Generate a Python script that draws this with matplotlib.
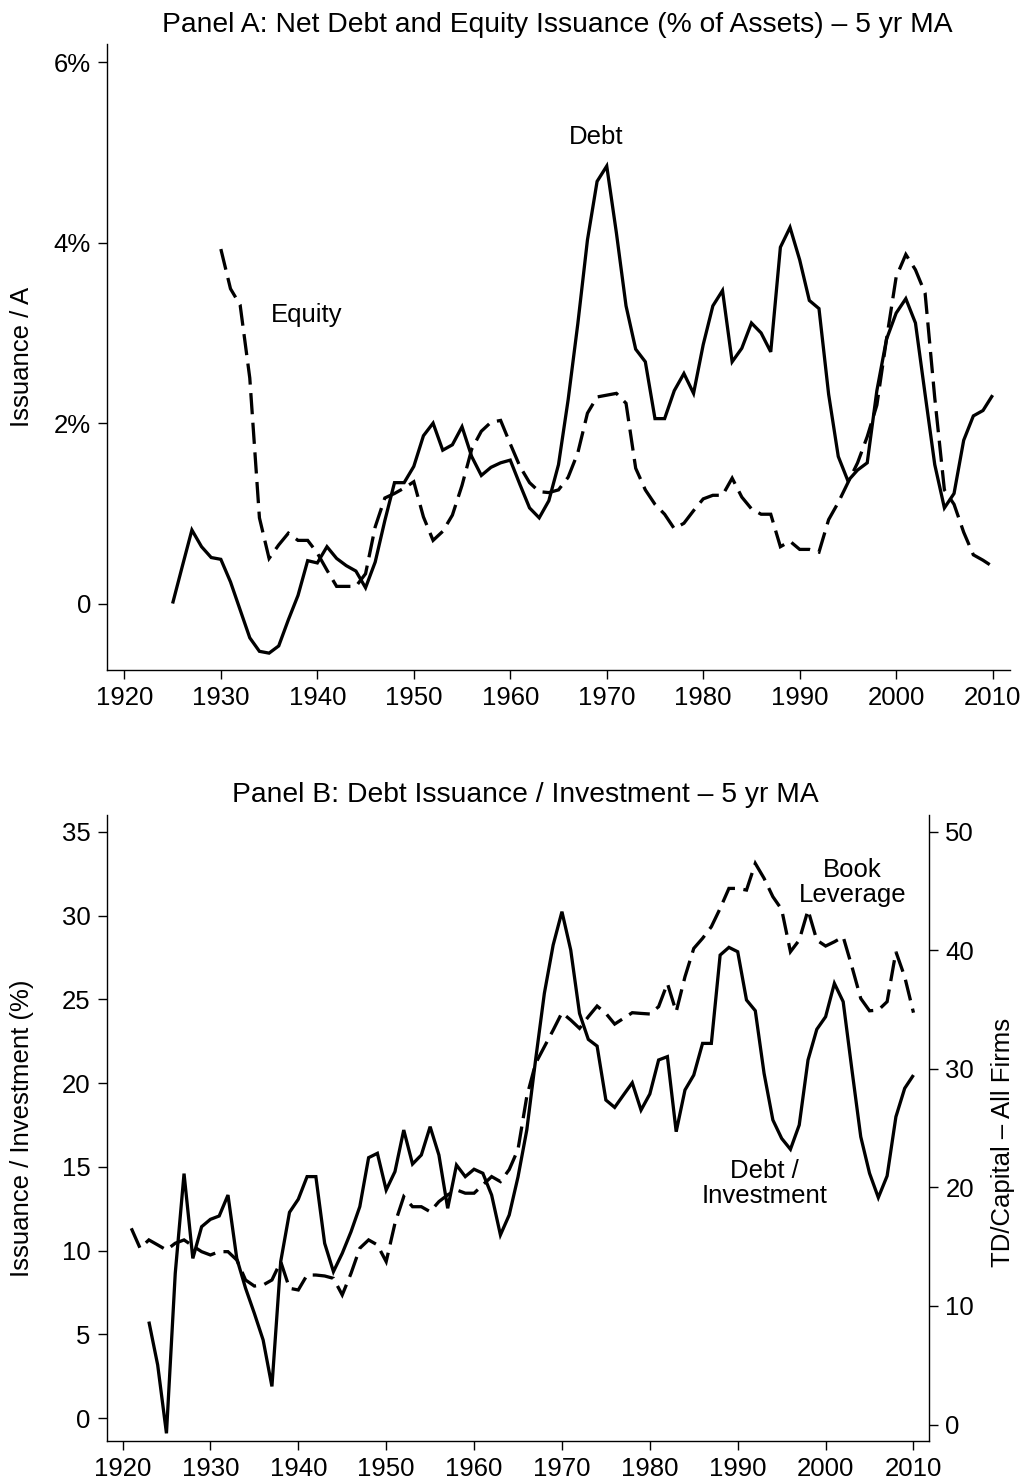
import matplotlib
matplotlib.use('Agg')
import matplotlib.pyplot as plt
import numpy as np

plt.rcParams['font.family'] = ['Liberation Sans', 'DejaVu Sans']

# ---------------- Data ----------------
debt_years = list(range(1925, 2011))
debt_issuance = [
    0.0, 0.41, 0.815, 0.63, 0.51, 0.49, 0.24, -0.07, -0.38, -0.53,
    -0.55, -0.47, -0.18, 0.09, 0.475, 0.45, 0.63, 0.50, 0.42, 0.36,
    0.175, 0.46, 0.92, 1.34, 1.34, 1.52, 1.86, 2.0, 1.70, 1.76,
    1.96, 1.63, 1.42, 1.51, 1.56, 1.59, 1.32, 1.06, 0.95, 1.14,
    1.54, 2.26, 3.1, 4.03, 4.68, 4.85, 4.11, 3.30, 2.82, 2.68,
    2.05, 2.05, 2.36, 2.55, 2.33, 2.87, 3.30, 3.47, 2.68, 2.83,
    3.11, 3.00, 2.79, 3.95, 4.17, 3.81, 3.36, 3.27, 2.32, 1.63,
    1.36, 1.48, 1.56, 2.36, 2.93, 3.22, 3.38, 3.11, 2.32, 1.54,
    1.06, 1.22, 1.81, 2.08, 2.14, 2.31,
]

equity_years = list(range(1930, 2011))
equity_issuance = [
    3.93, 3.49, 3.31, 2.5, 0.95, 0.50, 0.65, 0.78, 0.70, 0.70,
    0.56, 0.37, 0.19, 0.19, 0.19, 0.33, 0.85, 1.17, 1.22, 1.28,
    1.35, 0.96, 0.70, 0.80, 0.98, 1.31, 1.71, 1.91, 2.01, 2.03,
    1.77, 1.52, 1.34, 1.24, 1.23, 1.26, 1.40, 1.67, 2.11, 2.29,
    2.31, 2.33, 2.22, 1.50, 1.26, 1.10, 0.99, 0.83, 0.89, 1.03,
    1.16, 1.20, 1.20, 1.39, 1.18, 1.05, 0.99, 0.99, 0.63, 0.69,
    0.60, 0.60, 0.57, 0.93, 1.12, 1.34, 1.56, 1.85, 2.20, 2.93,
    3.62, 3.87, 3.70, 3.44, 2.28, 1.26, 1.10, 0.79, 0.54, 0.48,
    0.41,
]

di_years = list(range(1923, 2011))
debt_investment = [
    5.77, 3.18, -0.9, 8.65, 14.6, 9.54, 11.43, 11.87, 12.07, 13.32,
    9.54, 7.76, 6.26, 4.67, 1.9, 9.35, 12.29, 13.07, 14.42, 14.42,
    10.44, 8.75, 9.84, 11.13, 12.63, 15.55, 15.81, 13.62, 14.72, 17.20,
    15.17, 15.71, 17.40, 15.71, 12.53, 15.11, 14.42, 14.86, 14.62, 13.32,
    10.94, 12.13, 14.4, 17.20, 21.38, 25.36, 28.24, 30.23, 27.94, 24.16,
    22.61, 22.21, 18.99, 18.55, 19.29, 20.02, 18.39, 19.35, 21.38, 21.58,
    17.10, 19.59, 20.48, 22.37, 22.37, 27.64, 28.10, 27.84, 24.96, 24.32,
    20.58, 17.80, 16.70, 16.05, 17.50, 21.38, 23.21, 23.96, 25.95, 24.86,
    20.78, 16.80, 14.62, 13.17, 14.46, 17.99, 19.69, 20.48,
]

bl_years = list(range(1921, 2011))
book_leverage = [
    16.55, 14.87, 15.57, 15.15, 14.72, 15.29, 15.57, 15.06, 14.58, 14.30,
    14.58, 14.58, 13.88, 12.19, 11.68, 11.77, 12.19, 13.74, 11.49, 11.35,
    12.61, 12.61, 12.53, 12.33, 10.93, 12.75, 14.87, 15.57, 15.15, 13.74,
    16.97, 19.22, 18.37, 18.37, 17.95, 18.80, 19.37, 19.79, 19.51, 19.51,
    20.21, 20.91, 20.49, 21.5, 23.2, 27.66, 30.45, 31.86, 33.26, 34.73,
    34.11, 33.41, 34.39, 35.29, 34.67, 33.77, 34.25, 34.73, 34.67, 34.62,
    35.24, 37.20, 34.81, 37.76, 40.15, 41.00, 41.98, 43.52, 45.21, 45.21,
    45.07, 47.32, 46.06, 44.51, 43.44, 39.87, 40.85, 43.38, 40.85, 40.35,
    40.71, 41.13, 38.60, 35.93, 34.89, 34.95, 35.66, 39.87, 37.76, 34.73,
]

x_ticks = list(range(1920, 2011, 10))
a_yticks = [0, 2, 4, 6]
a_yticklabels = ['0', '2%', '4%', '6%']
b_left_ticks = list(range(0, 36, 5))
b_right_ticks = list(range(0, 51, 10))

# ---------------- Layout helpers ----------------
W, H = 1027, 1481
FS = 18.5
TFS = 20.3


def box(l, t, r, b):
    return [l / W, 1 - b / H, (r - l) / W, (b - t) / H]


def style(ax, sides):
    for s in ['top', 'right', 'left', 'bottom']:
        ax.spines[s].set_visible(s in sides)
        ax.spines[s].set_linewidth(1.0)
    ax.tick_params(direction='out', length=6.5, width=1.0, labelsize=FS,
                   colors='black', pad=5)


solid_kw = dict(color='black', lw=2.35, solid_joinstyle='miter', solid_capstyle='butt')
dash_kw = dict(color='black', lw=2.35, linestyle=(0, (6.5, 2.6)),
               dash_joinstyle='miter', dash_capstyle='butt')

fig = plt.figure(figsize=(W / 100, H / 100), dpi=100)

# ---------------- Panel A ----------------
axA = fig.add_axes(box(107, 44.3, 1010, 670))
style(axA, ['left', 'bottom'])
axA.plot(debt_years, debt_issuance, **solid_kw)
axA.plot(equity_years, equity_issuance, **dash_kw)
axA.set_xlim(1918.2, 2011.8)
axA.set_ylim(-0.737, 6.2)
axA.set_xticks(x_ticks)
axA.set_yticks(a_yticks)
axA.set_yticklabels(a_yticklabels)
axA.set_ylabel('Issuance / A', fontsize=FS)
axA.yaxis.set_label_coords((22 - 107) / 903, 0.5)
axA.yaxis.label.set_va('center')
axA.text(1968.95, 5.17, 'Debt', fontsize=FS, ha='center', va='center')
axA.text(1938.9, 3.2, 'Equity', fontsize=FS, ha='center', va='center')
fig.text(557 / W, 1 - 25 / H,
         'Panel A: Net Debt and Equity Issuance (% of Assets) \u2013 5 yr MA',
         fontsize=TFS, ha='center', va='center')

# ---------------- Panel B ----------------
axB = fig.add_axes(box(106.7, 815, 929.3, 1440.7))
style(axB, ['left', 'bottom'])
axB.plot(di_years, debt_investment, **solid_kw)
axB.set_xlim(1918.2, 2011.8)
axB.set_ylim(-1.34, 36.0)
axB.set_xticks(x_ticks)
axB.set_yticks(b_left_ticks)
axB.set_ylabel('Issuance / Investment (%)', fontsize=FS)
axB.yaxis.set_label_coords((22 - 106.7) / 822.6, 0.5)
axB.yaxis.label.set_va('center')

axR = axB.twinx()
style(axR, ['right'])
axR.plot(bl_years, book_leverage, **dash_kw)
axR.set_ylim(-1.36, 51.4)
axR.set_yticks(b_right_ticks)
axR.set_ylabel('TD/Capital \u2013 All Firms', fontsize=FS)
axR.yaxis.set_label_coords((1003 - 106.7) / 822.6, 0.477)
axR.yaxis.label.set_va('center')
axR.yaxis.label.set_rotation(90)

axB.text(2003.05, 31.96, 'Book\nLeverage', fontsize=FS, ha='center', va='center',
         linespacing=1.05)
axB.text(1993.0, 14.03, 'Debt /\nInvestment', fontsize=FS, ha='center', va='center',
         linespacing=1.05)
fig.text(525 / W, 1 - 795 / H,
         'Panel B: Debt Issuance / Investment \u2013 5 yr MA',
         fontsize=TFS, ha='center', va='center')

fig.savefig('out.png', dpi=100, facecolor='white')
